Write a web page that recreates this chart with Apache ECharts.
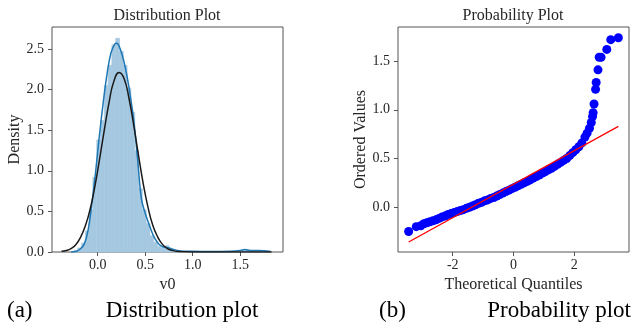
<!DOCTYPE html>
<html>
<head>
<meta charset="utf-8" />
<script src="https://cdn.jsdelivr.net/npm/echarts@6/dist/echarts.min.js"></script>
</head>
<body style="margin:0">
<div id="main" style="width:631px;height:326px"></div>
<script>
// histogram of v0 (bin centers / density)
var binWidth = 0.04;
var binCenters = [-0.23, -0.19, -0.15, -0.11, -0.07, -0.03, 0.01, 0.05, 0.09, 0.13, 0.17, 0.21, 0.25, 0.29, 0.33, 0.37, 0.41, 0.45, 0.49, 0.53, 0.57, 0.61, 0.65, 0.69, 0.73, 0.77, 0.81, 0.85, 1.53, 1.57, 1.73];
var binHeights = [0.02, 0.05, 0.11, 0.26, 0.52, 0.92, 1.38, 1.62, 2.05, 2.30, 2.55, 2.63, 2.47, 2.30, 2.02, 1.72, 1.25, 0.78, 0.52, 0.35, 0.20, 0.12, 0.07, 0.06, 0.08, 0.03, 0.01, 0.01, 0.02, 0.03, 0.02];

// kde curve
var kdeX = [-0.28, -0.22, -0.18, -0.14, -0.10, -0.06, -0.02, 0.02, 0.06, 0.10, 0.14, 0.18, 0.20, 0.22, 0.26, 0.30, 0.34, 0.38, 0.42, 0.46, 0.50, 0.55, 0.60, 0.65, 0.70, 0.75, 0.80, 0.90, 1.00, 1.20, 1.40, 1.50, 1.55, 1.60, 1.70, 1.75, 1.82];
var kdeY = [0.00, 0.01, 0.04, 0.10, 0.27, 0.60, 1.00, 1.45, 1.85, 2.20, 2.45, 2.56, 2.57, 2.55, 2.42, 2.22, 1.95, 1.62, 1.15, 0.66, 0.48, 0.31, 0.17, 0.09, 0.06, 0.05, 0.03, 0.01, 0.01, 0.005, 0.01, 0.02, 0.03, 0.02, 0.02, 0.015, 0.005];

// fitted normal curve
var normX = [-0.38, -0.33, -0.28, -0.23, -0.18, -0.13, -0.08, -0.03, 0.02, 0.07, 0.12, 0.17, 0.227, 0.28, 0.33, 0.38, 0.43, 0.48, 0.53, 0.58, 0.63, 0.68, 0.73, 0.78, 0.85, 1.0, 1.3, 1.6, 1.83];
var normY = [0.008, 0.018, 0.042, 0.09, 0.18, 0.32, 0.52, 0.80, 1.14, 1.50, 1.84, 2.10, 2.21, 2.13, 1.89, 1.56, 1.19, 0.84, 0.55, 0.33, 0.19, 0.097, 0.046, 0.02, 0.006, 0.001, 0, 0, 0];

// probability plot points
var qqX = [-3.45, -3.20, -3.05, -2.95, -2.85, -2.75, -2.65, -2.55, -2.45, -2.35, -2.25, -2.15, -2.05, -1.95, -1.85, -1.75, -1.65, -1.55, -1.45, -1.35, -1.25, -1.15, -1.05, -0.95, -0.85, -0.75, -0.65, -0.55, -0.45, -0.35, -0.25, -0.15, -0.05, 0.05, 0.15, 0.25, 0.35, 0.45, 0.55, 0.65, 0.75, 0.85, 0.95, 1.05, 1.15, 1.25, 1.35, 1.45, 1.55, 1.65, 1.75, 1.85, 1.95, 2.05, 2.15, 2.25, 2.35, 2.42, 2.50, 2.56, 2.60, 2.62, 2.65, 2.70, 2.72, 2.78, 2.82, 2.88, 3.07, 3.20, 3.45];
var qqY = [-0.25, -0.20, -0.19, -0.17, -0.16, -0.15, -0.14, -0.13, -0.115, -0.10, -0.09, -0.075, -0.065, -0.055, -0.045, -0.035, -0.025, -0.012, 0.00, 0.012, 0.025, 0.04, 0.05, 0.065, 0.075, 0.09, 0.10, 0.115, 0.13, 0.145, 0.16, 0.175, 0.19, 0.205, 0.22, 0.235, 0.25, 0.265, 0.28, 0.30, 0.315, 0.33, 0.35, 0.365, 0.385, 0.40, 0.42, 0.44, 0.46, 0.48, 0.50, 0.53, 0.56, 0.59, 0.62, 0.66, 0.72, 0.76, 0.81, 0.87, 0.93, 0.97, 1.06, 1.21, 1.28, 1.41, 1.54, 1.54, 1.62, 1.72, 1.74];

// least squares line
var fitX = [-3.45, 3.45];
var fitY = [-0.357, 0.83];

var leftTicksX = [0, 0.5, 1.0, 1.5];
var leftTicksY = [0, 0.5, 1.0, 1.5, 2.0, 2.5];
var rightTicksX = [-2, 0, 2];
var rightTicksY = [0, 0.5, 1.0, 1.5];

function zip(a, b) {
  return a.map(function (v, i) { return [v, b[i]]; });
}

var serif = '"Liberation Serif", "DejaVu Serif", serif';
var txt = '#262626';
var frame = '#555';

function xAxis(idx, min, max, ticks, name, digits) {
  return {
    type: 'value', gridIndex: idx, min: min, max: max,
    name: name, nameLocation: 'middle', nameGap: 22,
    nameTextStyle: { fontFamily: serif, fontSize: 16, color: txt },
    splitLine: { show: false },
    axisLine: { show: false, onZero: false },
    axisTick: { show: true, length: 4, customValues: ticks, lineStyle: { color: frame } },
    axisLabel: {
      customValues: ticks, margin: 6, fontFamily: serif, fontSize: 14, color: txt,
      formatter: function (v) { return digits ? v.toFixed(digits) : String(v); }
    }
  };
}
function yAxis(idx, min, max, ticks, name) {
  return {
    type: 'value', gridIndex: idx, min: min, max: max,
    name: name, nameLocation: 'middle', nameGap: 28,
    nameTextStyle: { fontFamily: serif, fontSize: 16, color: txt },
    splitLine: { show: false },
    axisLine: { show: false, onZero: false },
    axisTick: { show: true, length: 4, customValues: ticks, lineStyle: { color: frame } },
    axisLabel: {
      customValues: ticks, margin: 8, fontFamily: serif, fontSize: 14, color: txt,
      formatter: function (v) { return v.toFixed(1); }
    }
  };
}

var option = {
  animation: false,
  grid: [
    { left: 52, top: 27, width: 231, height: 225, show: true, borderColor: frame, borderWidth: 1 },
    { left: 398, top: 27, width: 231, height: 225, show: true, borderColor: frame, borderWidth: 1 }
  ],
  xAxis: [
    xAxis(0, -0.48, 1.95, leftTicksX, 'v0', 1),
    xAxis(1, -3.8, 3.8, rightTicksX, 'Theoretical Quantiles', 0)
  ],
  yAxis: [
    yAxis(0, 0, 2.77, leftTicksY, 'Density'),
    yAxis(1, -0.46, 1.85, rightTicksY, 'Ordered Values')
  ],
  series: [
    {
      type: 'custom', xAxisIndex: 0, yAxisIndex: 0,
      data: zip(binCenters, binHeights),
      encode: { x: 0, y: 1 },
      renderItem: function (params, api) {
        var c = api.value(0), h = api.value(1);
        var p0 = api.coord([c - binWidth / 2, h]);
        var p1 = api.coord([c + binWidth / 2, 0]);
        return {
          type: 'rect',
          shape: { x: p0[0], y: p0[1], width: p1[0] - p0[0], height: p1[1] - p0[1] },
          style: { fill: '#a5c8e1', stroke: '#a5c8e1', lineWidth: 0.6 }
        };
      }
    },
    {
      type: 'line', xAxisIndex: 0, yAxisIndex: 0, data: zip(kdeX, kdeY),
      smooth: 0.4, showSymbol: false,
      lineStyle: { color: '#1f77b4', width: 1.5 }
    },
    {
      type: 'line', xAxisIndex: 0, yAxisIndex: 0, data: zip(normX, normY),
      smooth: 0.5, showSymbol: false,
      lineStyle: { color: '#1a1a1a', width: 1.5 }
    },
    {
      type: 'scatter', xAxisIndex: 1, yAxisIndex: 1, data: zip(qqX, qqY),
      symbolSize: 9, itemStyle: { color: '#0000ff', opacity: 1 }
    },
    {
      type: 'line', xAxisIndex: 1, yAxisIndex: 1, data: zip(fitX, fitY), z: 5,
      showSymbol: false, lineStyle: { color: '#ff0000', width: 1.3 }
    }
  ],
  graphic: [
    { type: 'text', x: 167, y: 16, style: { text: 'Distribution Plot', font: '16px ' + serif, fill: txt, align: 'center', verticalAlign: 'middle' } },
    { type: 'text', x: 513, y: 16, style: { text: 'Probability Plot', font: '16px ' + serif, fill: txt, align: 'center', verticalAlign: 'middle' } },
    { type: 'text', x: 7, y: 311, style: { text: '(a)', font: '23px ' + serif, fill: '#000', align: 'left', verticalAlign: 'middle' } },
    { type: 'text', x: 182, y: 311, style: { text: 'Distribution plot', font: '23px ' + serif, fill: '#000', align: 'center', verticalAlign: 'middle' } },
    { type: 'text', x: 379, y: 311, style: { text: '(b)', font: '23px ' + serif, fill: '#000', align: 'left', verticalAlign: 'middle' } },
    { type: 'text', x: 631, y: 311, style: { text: 'Probability plot', font: '23px ' + serif, fill: '#000', align: 'right', verticalAlign: 'middle' } }
  ]
};

var myChart = echarts.init(document.getElementById('main'));
myChart.setOption(option);
</script>
</body>
</html>
